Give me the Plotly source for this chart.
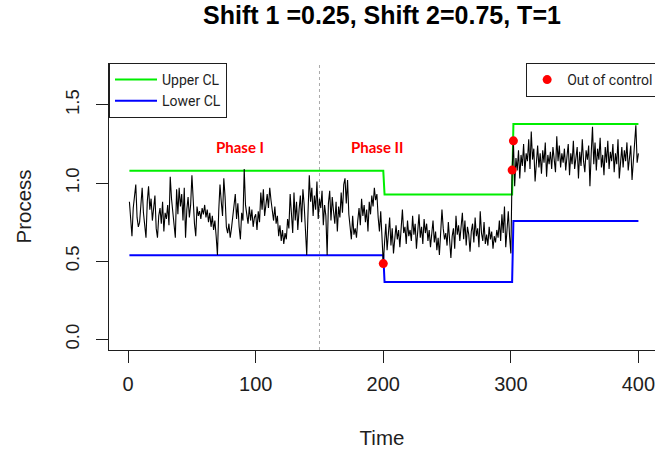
import plotly.graph_objects as go

# ---- text ----
title_text = "Shift 1 =0.25, Shift 2=0.75, T=1"
x_label = "Time"
y_label = "Process"
phase_names = ["Phase I", "Phase II"]

# ---- observed process, t = 1..400 ----
process = [
    # Phase I (1-200)
    0.88, 0.79, 0.66, 0.84, 0.92, 0.99, 0.78, 0.72, 0.75, 0.86,
    0.97, 0.81, 0.70, 0.65, 0.88, 0.98, 0.83, 0.90, 0.76, 0.85,
    0.92, 0.71, 0.65, 0.79, 0.84, 0.74, 0.88, 0.69, 0.81, 0.77,
    0.86, 0.73, 1.04, 0.90, 0.82, 0.74, 0.65, 0.96, 0.80, 0.97,
    0.85, 0.93, 0.76, 0.97, 0.65, 0.83, 0.91, 0.78, 0.86, 1.05,
    0.88, 0.74, 0.66, 0.85, 0.79, 0.82, 0.77, 0.84, 0.80, 0.86,
    0.78, 0.83, 0.75, 0.81, 0.72, 0.79, 0.70, 0.76, 0.66, 0.54,
    0.82, 0.99, 0.88, 0.79, 1.03, 0.91, 0.72, 0.68, 0.74, 0.65,
    0.71, 0.79, 0.84, 0.93, 0.77, 0.87, 0.72, 0.64, 0.81, 0.76,
    1.09, 0.86, 0.80, 0.74, 0.85, 0.76, 0.83, 0.72, 0.78, 0.80,
    0.70, 0.82, 0.75, 0.94, 0.83, 0.96, 0.79, 0.88, 0.93, 0.84,
    0.97, 0.89, 0.82, 0.76, 0.85, 0.74, 0.79, 0.66, 0.73, 0.63,
    0.70, 0.61, 0.68, 0.64, 0.77, 0.71, 0.93, 0.82, 0.68, 0.94,
    0.76, 0.88, 0.70, 0.83, 0.92, 0.75, 0.96, 0.86, 0.73, 0.54,
    0.81, 1.05, 0.88, 0.97, 0.79, 0.92, 0.83, 1.01, 0.77, 0.90,
    0.84, 0.95, 0.73, 0.86, 0.79, 0.54, 0.87, 0.95, 0.76, 0.91,
    0.82, 0.74, 0.88, 0.69, 0.85, 0.78, 0.94, 0.81, 0.99, 1.03,
    0.87, 1.02, 0.80, 0.72, 0.64, 0.79, 0.67, 0.71, 0.65, 0.76,
    0.84, 0.73, 0.90, 0.79, 0.86, 0.75, 0.83, 0.69, 0.88, 0.80,
    0.92, 0.85, 0.97, 0.89, 0.93, 0.78, 0.69, 0.82, 0.61, 0.485,
    # Phase II, first shift (201-301)
    0.62, 0.74, 0.57, 0.69, 0.78, 0.60, 0.71, 0.55, 0.66, 0.73,
    0.64, 0.70, 0.59, 0.75, 0.83, 0.68, 0.72, 0.61, 0.76, 0.66,
    0.70, 0.63, 0.79, 0.67, 0.74, 0.58, 0.69, 0.80, 0.65, 0.72,
    0.61, 0.77, 0.68, 0.74, 0.63, 0.70, 0.59, 0.66, 0.76, 0.62,
    0.69, 0.57, 0.65, 0.54, 0.73, 0.83, 0.71, 0.64, 0.68, 0.60,
    0.75, 0.62, 0.52, 0.66, 0.71, 0.58, 0.79, 0.67, 0.73, 0.63,
    0.70, 0.81, 0.64, 0.76, 0.60, 0.72, 0.67, 0.56, 0.69, 0.74,
    0.62, 0.78, 0.66, 0.71, 0.59, 0.82, 0.68, 0.63, 0.75, 0.61,
    0.67, 0.60, 0.72, 0.64, 0.69, 0.58, 0.66, 0.62, 0.70, 0.65,
    0.76, 0.63, 0.80, 0.68, 0.85, 0.59, 0.70, 0.82, 0.66, 0.55,
    1.083,
    # Phase II, second shift (302-400)
    1.27, 0.98, 1.16, 1.08, 1.21, 1.03, 1.18, 1.11, 1.25,
    1.07, 1.19, 1.14, 1.28, 1.09, 1.33, 1.15, 1.22, 1.01, 1.17,
    1.24, 1.10, 1.19, 1.06, 1.21, 1.13, 1.26, 1.04, 1.18, 1.12,
    1.20, 1.09, 1.23, 1.15, 1.07, 1.30, 1.14, 1.24, 1.10, 1.19,
    1.13, 1.22, 1.08, 1.17, 1.25, 1.05, 1.19, 1.12, 1.27, 1.09,
    1.16, 1.23, 1.03, 1.20, 1.11, 1.28, 1.14, 1.07, 1.21, 1.15,
    1.24, 0.98, 1.19, 1.36, 1.12, 1.26, 1.08, 1.22, 1.15, 1.29,
    1.10, 1.18, 1.05, 1.23, 1.13, 1.27, 1.09, 1.20, 1.14, 1.25,
    1.07, 1.19, 1.12, 1.28, 1.03, 1.17, 1.23, 1.10, 1.21, 1.14,
    1.26, 1.08, 1.18, 1.24, 1.02, 1.15, 1.29, 1.37, 1.13, 1.19,
]
time = list(range(1, len(process) + 1))

# ---- control limits: last time index of each segment and its limits ----
segment_ends = [200, 301, 400]
upper_cl = [1.079, 0.927, 1.378]
lower_cl = [0.538, 0.367, 0.758]

# ---- signals and the Phase I / Phase II boundary ----
out_of_control_t = [200, 301, 302]
phase_boundary = 150

# ---- axis ticks ----
x_ticks = [0, 100, 200, 300, 400]
y_ticks = [0.0, 0.5, 1.0, 1.5]
y_tick_labels = ["0.0", "0.5", "1.0", "1.5"]


def limit_series(levels):
    out = []
    for t in time:
        for end, level in zip(segment_ends, levels):
            if t <= end:
                out.append(level)
                break
    return out


ucl_series = limit_series(upper_cl)
lcl_series = limit_series(lower_cl)
signal_y = [process[t - 1] for t in out_of_control_t]

FONT = "Liberation Sans, Arial, sans-serif"
LEG_FONT = "Roboto, Liberation Sans, sans-serif"
INK = "#1e1e1e"

fig = go.Figure()
fig.add_trace(go.Scatter(x=time, y=ucl_series, mode="lines", name="Upper CL",
                         line=dict(color="#00ee00", width=2), legend="legend"))
fig.add_trace(go.Scatter(x=time, y=lcl_series, mode="lines", name="Lower CL",
                         line=dict(color="#0000ff", width=2), legend="legend"))
fig.add_trace(go.Scatter(x=time, y=process, mode="lines", name="Process",
                         line=dict(color="black", width=1.1), showlegend=False))
fig.add_trace(go.Scatter(x=out_of_control_t, y=signal_y, mode="markers",
                         name="Out of control",
                         marker=dict(color="#ff0000", size=9), legend="legend2"))

fig.add_shape(type="line", xref="x", yref="paper", x0=phase_boundary,
              x1=phase_boundary, y0=0, y1=1, layer="below",
              line=dict(color="#aaaaaa", width=1, dash="dot"))

for name, xpos in zip(phase_names, [88, 195]):
    fig.add_annotation(x=xpos, y=1.23, xref="x", yref="y", text=name,
                       showarrow=False,
                       font=dict(family="Lato, Liberation Sans, sans-serif",
                                 size=15, color="#ff0000", weight="bold"))

legend_style = dict(bordercolor=INK, borderwidth=1, bgcolor="white",
                    font=dict(family=LEG_FONT, size=14, color=INK),
                    yanchor="top", xanchor="left", y=1)

fig.update_layout(
    width=655, height=457, autosize=False,
    margin=dict(l=109, r=0, t=63, b=107, autoexpand=False),
    paper_bgcolor="white", plot_bgcolor="white",
    font=dict(family=FONT, size=20, color=INK),
    title=dict(text=title_text, x=0.5, xref="paper", xanchor="center",
               y=1 - 15 / 457, yref="container", yanchor="middle",
               font=dict(family=FONT, size=25, weight="bold", color="black")),
    legend=dict(x=0, itemwidth=42, **legend_style),
    legend2=dict(x=0.764, **legend_style),
    xaxis=dict(range=[-15, 413], tickvals=x_ticks, ticks="outside",
               ticklen=12, tickwidth=1, tickcolor=INK, showline=True,
               linecolor=INK, linewidth=1, showgrid=False, zeroline=False,
               ticklabelstandoff=4, ticklabeloverflow="allow",
               tickfont=dict(size=20),
               title=dict(text=x_label, standoff=36,
                          font=dict(size=20.5))),
    yaxis=dict(range=[-0.068, 1.768], tickvals=y_ticks, ticktext=y_tick_labels,
               tickangle=-90, ticks="outside", ticklen=12, tickwidth=1,
               tickcolor=INK, showline=True, linecolor=INK, linewidth=1,
               showgrid=False, zeroline=False, ticklabelstandoff=10,
               tickfont=dict(size=18.5),
               title=dict(text=y_label, standoff=24,
                          font=dict(size=20.5))),
)

fig.write_html("out.html")
